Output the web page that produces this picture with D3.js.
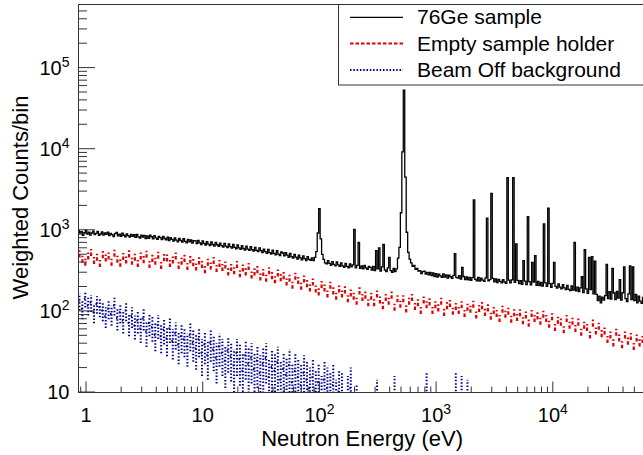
<!DOCTYPE html>
<html><head><meta charset="utf-8">
<script src="https://cdn.jsdelivr.net/npm/d3@7"></script>
<style>
body{margin:0;background:#fff}
svg{display:block;font-family:"Liberation Sans",Arial,Helvetica,sans-serif}
</style>
</head><body>
<svg id="c" width="643" height="455"></svg>
<script>
// ---- binning (x categories): log-spaced bins starting at energyMin ----
const energyMin = 0.862;     // eV, lower edge of first bin
const geBinsPerDecade = 80;  // fine binning of the 76Ge spectrum
const bgBinsPerDecade = 40;  // binning of the two background spectra

// ---- series values (weighted counts per bin) ----
const geSample = [
 960,880,935,845,910,975,870,925,850,900,950,860,890,940,845,875,930,850,905,865,
 920,835,890,860,815,885,915,830,870,820,895,845,805,880,835,800,865,820,860,795,
 865,805,780,850,800,840,770,830,775,845,810,760,835,785,750,820,790,745,815,770,
 740,800,725,790,750,715,785,735,700,770,730,695,765,710,680,750,700,740,675,725,
 720,665,730,680,650,720,670,640,705,655,630,700,650,620,690,645,615,675,630,605,
 670,620,595,660,610,585,650,600,575,640,590,565,630,580,555,620,570,550,610,560,
 540,600,550,530,590,545,515,570,530,505,565,515,495,555,505,485,545,495,475,525,
 510,470,515,480,450,505,460,440,490,455,430,480,445,420,470,435,410,460,425,415,
 445,410,450,530,900,1800,760,490,425,385,375,410,380,360,400,370,355,395,365,350,
 385,355,340,380,350,335,375,345,365,1000,335,360,690,330,355,325,360,335,320,350,
 340,315,350,310,545,325,590,305,345,650,315,300,335,450,310,295,330,300,325,440,
 600,1600,9000,52000,4400,920,520,430,385,350,360,320,330,305,310,285,300,305,280,295,
 275,295,268,290,262,284,258,280,266,255,282,258,274,250,272,260,248,270,500,255,
 250,268,244,340,262,240,258,238,256,234,254,2300,242,232,256,230,250,236,228,252,
 1370,232,240,2780,248,225,244,220,242,228,218,240,224,216,4350,236,218,238,4350,222,
 660,234,214,232,210,410,230,208,1430,226,206,390,224,475,204,228,202,222,200,1170,
 218,198,1820,214,192,216,390,198,188,212,194,184,208,190,180,204,182,176,200,178,
 690,174,194,170,190,260,166,560,184,162,450,180,460,160,405,158,132,150,124,146,
 134,152,370,140,170,138,330,164,136,172,142,240,134,165,345,140,128,160,355,136,
 345,132,158,124,150,130,122,145
];
const emptyHolder = [
 500,430,395,470,520,415,455,380,490,445,
 470,395,510,430,385,465,420,500,405,455,
 380,470,425,495,370,440,405,480,360,450,
 445,380,420,470,360,405,440,350,425,390,
 345,410,370,320,395,355,415,330,380,340,
 365,300,340,310,370,285,335,300,350,275,
 300,320,260,295,250,310,270,240,290,255,
 270,225,250,205,265,235,200,245,215,190,
 225,185,170,210,190,160,205,175,150,185,
 160,180,140,165,150,130,175,145,155,125,
 150,125,160,135,115,145,130,155,110,140,
 120,140,105,130,145,112,125,100,135,118,
 128,100,118,108,130,95,115,122,98,112,
 100,118,92,110,104,120,88,106,115,95,
 108,85,100,92,80,104,90,98,78,94,
 82,94,75,88,70,92,80,86,74,90,
 80,68,84,62,76,72,58,80,66,74,
 60,72,54,66,62,50,70,56,64,52,
 56,44,50,40,54,46,38,50,42,48,36,46,40,44
];
const beamOff = [
 130,105,140,115,125,95,120,110,100,85,
 105,90,115,80,95,75,100,70,85,65,
 75,60,80,55,70,62,50,66,48,58,
 45,60,42,52,38,48,44,36,50,40,
 34,44,30,38,28,40,33,26,36,30,
 24,32,27,21,30,25,18,28,22,26,
 19,24,17,22,26,15,20,18,23,14,
 19,16,21,13,18,15,12,17,14,11,
 15,10,13,8,14,11,9,12,7,10,
 9,0,8,11,0,6,0,0,0,0,
 0,0,7,0,0,0,0,0,8,0,
 0,0,0,0,0,0,0,0,0,9,
 0,0,0,0,0,0,0,0,0,9,
 0,8,0,7,0,0,0,0,0,0
];
// uncertainties
const emptyRelErr = 0.1;     // relative error on empty-holder bins
const beamOffWeight = 7;     // weight per count (Poisson) for beam-off bins

const xTicks = [1, 10, 100, 1000, 10000];
const xTickLabels = ["1", "10", "10^2", "10^3", "10^4"];
const yTicks = [10, 100, 1000, 10000, 100000];
const yTickLabels = ["10", "10^2", "10^3", "10^4", "10^5"];
const legendLabels = ["76Ge sample", "Empty sample holder", "Beam Off background"];
const xTitle = "Neutron Energy (eV)";
const yTitle = "Weighted Counts/bin";

// ---- layout ----
const L = 78, T = 4, B = 392, R = 669;
const svg = d3.select("#c");
svg.append("rect").attr("width",643).attr("height",455).attr("fill","#fff");

const x = d3.scaleLog().domain([energyMin, 1e5]).range([L, R]);
const y = d3.scaleLog().domain([9.86, 6.0e5]).range([B, T]);

const makeEdges = (n, perDecade) => d3.range(n + 1).map(k => energyMin * Math.pow(10, k / perDecade));
const geEdges = makeEdges(geSample.length, geBinsPerDecade);
const bgEdges = makeEdges(emptyHolder.length, bgBinsPerDecade);

svg.append("defs").append("clipPath").attr("id","pc")
  .append("rect").attr("x",L).attr("y",T).attr("width",R-L).attr("height",B-T);
const plot = svg.append("g").attr("clip-path","url(#pc)");

// error-bar series
function errorSeries(values, errFn, color, dash, width, horizontal) {
  const g = plot.append("g").attr("stroke", color).attr("stroke-width", width)
    .attr("stroke-dasharray", dash).attr("fill","none");
  values.forEach((v, i) => {
    if (!(v > 0)) return;
    const e = errFn(v);
    const xc = x(Math.sqrt(bgEdges[i] * bgEdges[i + 1]));
    const lo = v - e > 0 ? y(v - e) : B + 5;
    g.append("line").attr("x1", xc).attr("x2", xc).attr("y1", lo).attr("y2", y(v + e));
    if (horizontal)
      g.append("line").attr("x1", x(bgEdges[i])).attr("x2", x(bgEdges[i + 1]))
        .attr("y1", y(v)).attr("y2", y(v));
  });
}
errorSeries(beamOff, v => Math.sqrt(v * beamOffWeight), "#000088", "1.5,1.8", 2, true);
errorSeries(emptyHolder, v => v * emptyRelErr, "#e00000", "3.5,2", 2.2, false);

// step histogram
const pts = geSample.map((v, i) => [geEdges[i], v]);
pts.push([geEdges[geSample.length], geSample[geSample.length - 1]]);
plot.append("path")
  .attr("d", d3.line().x(d => x(d[0])).y(d => y(d[1])).curve(d3.curveStepAfter)(pts))
  .attr("fill","none").attr("stroke","#000").attr("stroke-width",1.3);

// ---- axes ----
function setLabel(sel, label) {
  sel.text(null);
  const parts = label.split("^");
  sel.append("tspan").text(parts[0]);
  if (parts[1]) sel.append("tspan").attr("dy", -7.5).attr("font-size", 14).text(parts[1]);
}
const xMinor = [], yMinor = [];
[0.1, 1, 10, 100, 1000, 10000].forEach(d => [2,3,4,5,6,7,8,9].forEach(m => {
  const v = d * m; if (v > energyMin && v < 1e5) xMinor.push(v);
}));
[10, 100, 1000, 10000, 100000].forEach(d => [2,3,4,5,6,7,8,9].forEach(m => {
  const v = d * m; if (v < 5.9e5) yMinor.push(v);
}));

const axisColor = "#333";
const gxm = svg.append("g").attr("transform",`translate(0,${B})`)
  .call(d3.axisBottom(x).tickValues(xMinor).tickSize(-5.5).tickSizeOuter(0).tickFormat(""));
const gx = svg.append("g").attr("transform",`translate(0,${B})`)
  .call(d3.axisBottom(x).tickValues(xTicks).tickSize(-10.5).tickSizeOuter(0)
    .tickFormat((d, i) => xTickLabels[i]));
gx.selectAll(".tick text").attr("y", 29.5).attr("dy", 0).attr("font-size", 20).attr("fill","#000")
  .each(function(d, i){ setLabel(d3.select(this), xTickLabels[i]); });

const gym = svg.append("g").attr("transform",`translate(${L},0)`)
  .call(d3.axisLeft(y).tickValues(yMinor).tickSize(-9).tickSizeOuter(0).tickFormat(""));
const gy = svg.append("g").attr("transform",`translate(${L},0)`)
  .call(d3.axisLeft(y).tickValues(yTicks).tickSize(-17).tickSizeOuter(0).tickPadding(8.5)
    .tickFormat((d, i) => yTickLabels[i]));
gy.selectAll(".tick text").attr("dy", 7).attr("font-size", 20).attr("fill","#000")
  .each(function(d, i){ setLabel(d3.select(this), yTickLabels[i]); });

[gx, gxm, gy, gym].forEach(g => {
  g.attr("font-family", null);
  g.selectAll("line,path").attr("stroke", axisColor).attr("stroke-width", 1);
});
svg.append("line").attr("x1",L).attr("x2",R).attr("y1",T+0.5).attr("y2",T+0.5)
  .attr("stroke",axisColor).attr("stroke-width",1);

// axis titles
svg.append("text").attr("x", 463).attr("y", 445.5).attr("text-anchor","end")
  .attr("font-size", 22).text(xTitle);
svg.append("text").attr("transform","translate(28,197.5) rotate(-90)")
  .attr("text-anchor","middle").attr("font-size", 22).text(yTitle);

// ---- legend ----
const leg = svg.append("g");
leg.append("rect").attr("x",338.5).attr("y",T+0.5).attr("width",340).attr("height",80.5)
  .attr("fill","#fff").attr("stroke",axisColor).attr("stroke-width",1);
const legStyles = [
  {color:"#000", dash:null, w:1.2},
  {color:"#e00000", dash:"3.5,2", w:2},
  {color:"#000088", dash:"1.5,1.8", w:2}
];
legendLabels.forEach((lab, i) => {
  const ly = 17.3 + i * 26.3;
  leg.append("line").attr("x1",350).attr("x2",403).attr("y1",ly).attr("y2",ly)
    .attr("stroke",legStyles[i].color).attr("stroke-width",legStyles[i].w)
    .attr("stroke-dasharray",legStyles[i].dash);
  leg.append("text").attr("x",417).attr("y",24.3 + i*26.2).attr("font-size",21).text(lab);
});
</script>
</body></html>
